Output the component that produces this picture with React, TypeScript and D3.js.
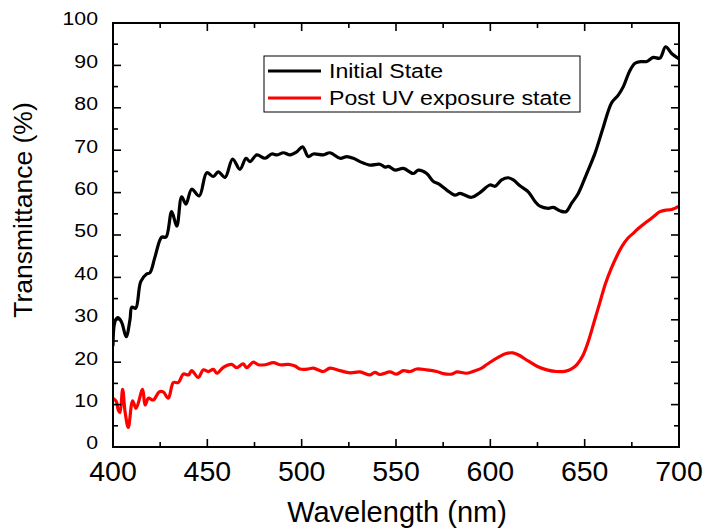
import React from "react";
import * as d3 from "d3";

const initialWl = [400, 401, 402.5, 404.5, 407, 409, 410, 412, 414.7, 417.8, 419.6, 422.3, 425.8, 428.1, 431.1, 433.8, 436.4, 438.7, 441.7, 445.7, 449.7, 453.2, 455.8, 459.4, 463.4, 467.3, 470.5, 472.6, 476.2, 480.6, 484.1, 487, 490.3, 493.8, 497.4, 500.5, 503.5, 506.2, 511.5, 515, 520.3, 523.9, 527.4, 530.9, 536.2, 541.5, 544.2, 546, 549.5, 553.9, 559.2, 561.8, 566.3, 569.8, 572.4, 576.9, 581.3, 583.9, 590.1, 594.5, 599.8, 602.5, 606, 609.5, 612.2, 615.7, 620.1, 623.7, 626.3, 630.7, 633.4, 636.9, 640.1, 643.1, 646.6, 651.1, 655.5, 659.9, 664.3, 667.8, 670.5, 673.7, 676.7, 680.2, 682.9, 686.4, 689.9, 692.9, 696.1, 700];
const initialT = [24, 29.5, 30.5, 29.5, 26, 30, 33, 32.7, 39, 40.8, 41.1, 44.9, 49.5, 49.5, 55.5, 52.1, 59, 57.3, 60.8, 59.2, 64.7, 63.8, 64.9, 63.6, 67.9, 65.5, 68.1, 67.3, 68.9, 68.1, 69.1, 68.9, 69.4, 68.9, 69.6, 70.8, 68.5, 69.1, 68.9, 69.4, 68.1, 68.5, 68.1, 67.3, 66.5, 66.7, 66, 66.2, 65.3, 65.7, 64.5, 65.3, 64.5, 62.6, 62.1, 60.6, 59.4, 59.8, 58.9, 60, 61.8, 61.5, 63, 63.5, 63, 61.6, 60.2, 57.9, 56.8, 56.3, 56.5, 55.7, 55.5, 57.5, 59.8, 64.5, 69.3, 75.5, 81.2, 83, 85, 88.5, 90.5, 90.9, 90.9, 91.9, 91.7, 94.4, 92.8, 91.5];

const postWl = [400, 401.7, 402.8, 403.7, 405.1, 406.4, 408.1, 410.4, 412.2, 415.7, 417, 418.8, 421.4, 424.5, 426.6, 429.3, 432, 434.6, 437.3, 440, 441.7, 445.2, 447.9, 450.5, 453.2, 455, 458.5, 462.9, 465.5, 469, 470.8, 474.4, 477.1, 480.6, 485, 488.6, 493, 496.5, 499.1, 503.5, 506.2, 511.5, 515, 520.3, 525.6, 530.9, 536.2, 538.8, 541.5, 546.8, 550.3, 553.9, 557.4, 561, 566.3, 571.6, 575.1, 579.5, 582.2, 587.5, 591.9, 595.4, 598.9, 604.8, 608, 612, 615, 620, 625, 630, 635, 640, 643, 646, 649, 652, 655, 658, 661, 664, 667, 670, 673, 676, 677.6, 682.9, 686.4, 689.9, 693.5, 696.1, 700];
const postT = [11.5, 10.8, 8.7, 8.1, 13.6, 8.3, 4.6, 10.9, 9.1, 13.6, 9.9, 11.5, 11.1, 13, 13, 11.5, 15.2, 15.2, 17.2, 17, 18, 16.4, 18.2, 17.8, 18.3, 17.4, 18.8, 19.5, 18.7, 19.6, 18.7, 20, 19.4, 19.4, 19.9, 19.4, 19.5, 19.1, 18.4, 18.4, 18.6, 17.8, 18.6, 18, 17.5, 17.7, 17, 17.6, 17.1, 17.7, 17.2, 18, 17.8, 18.4, 18.2, 17.8, 17.3, 17.2, 17.7, 17.4, 18, 18.6, 19.7, 21.3, 22, 22.2, 21.7, 20.3, 19, 18.2, 17.8, 17.9, 18.4, 19.5, 21.5, 25, 29.5, 34, 38.5, 42, 45, 47.5, 49.3, 50.5, 51.2, 53.1, 54.3, 55.5, 55.9, 56, 56.8];

const xTicks = [400, 450, 500, 550, 600, 650, 700];
const xMinor = [425, 475, 525, 575, 625, 675];
const yTicks = [0, 10, 20, 30, 40, 50, 60, 70, 80, 90, 100];
const yMinor = [5, 15, 25, 35, 45, 55, 65, 75, 85, 95];
const seriesNames = ["Initial State", "Post UV exposure state"];
const seriesColors = ["#000000", "#ff0000"];

const L = 113, R = 679, T = 23, B = 447;
const FONT = "Arial, 'Liberation Sans', sans-serif";

export default function App() {
  const x = d3.scaleLinear().domain([400, 700]).range([L, R]);
  const y = d3.scaleLinear().domain([0, 100]).range([B, T]);
  const line = d3.line<[number, number]>().x(d => x(d[0])).y(d => y(d[1])).curve(d3.curveCatmullRom.alpha(0.5));
  const initial = initialWl.map((w, i) => [w, initialT[i]] as [number, number]);
  const post = postWl.map((w, i) => [w, postT[i]] as [number, number]);
  const series = [initial, post];

  return (
    <svg width={706} height={531} style={{ position: "absolute", left: 0, top: 0, background: "#fff" }} fontFamily={FONT}>
      <rect x={0} y={0} width={706} height={531} fill="#fff" />
      <defs>
        <clipPath id="plotclip">
          <rect x={L} y={T} width={R - L} height={B - T} />
        </clipPath>
      </defs>
      <g clipPath="url(#plotclip)">
        {series.map((s, i) => (
          <path key={i} d={line(s) || ""} fill="none" stroke={seriesColors[i]} strokeWidth={3.2} strokeLinejoin="round" strokeLinecap="round" />
        ))}
      </g>
      <rect x={L} y={T} width={R - L} height={B - T} fill="none" stroke="#000" strokeWidth={2} />
      {xTicks.map(t => (
        <g key={"xt" + t}>
          <line x1={x(t)} x2={x(t)} y1={B} y2={B - 8} stroke="#000" strokeWidth={1.6} />
          <line x1={x(t)} x2={x(t)} y1={T} y2={T + 8} stroke="#000" strokeWidth={1.6} />
          <text x={x(t)} y={481} fontSize={28.5} textAnchor="middle" fill="#000">{t}</text>
        </g>
      ))}
      {xMinor.map(t => (
        <g key={"xm" + t}>
          <line x1={x(t)} x2={x(t)} y1={B} y2={B - 5} stroke="#000" strokeWidth={1.6} />
          <line x1={x(t)} x2={x(t)} y1={T} y2={T + 5} stroke="#000" strokeWidth={1.6} />
        </g>
      ))}
      {yTicks.map(t => (
        <g key={"yt" + t}>
          <line x1={L} x2={L + 8} y1={y(t)} y2={y(t)} stroke="#000" strokeWidth={1.6} />
          <line x1={R} x2={R - 8} y1={y(t)} y2={y(t)} stroke="#000" strokeWidth={1.6} />
          <text x={98} y={y(t) + 2.5} fontSize={19} textAnchor="end" fill="#000" transform={`translate(98,0) scale(1.12,1) translate(-98,0)`}>{t}</text>
        </g>
      ))}
      {yMinor.map(t => (
        <g key={"ym" + t}>
          <line x1={L} x2={L + 5} y1={y(t)} y2={y(t)} stroke="#000" strokeWidth={1.6} />
          <line x1={R} x2={R - 5} y1={y(t)} y2={y(t)} stroke="#000" strokeWidth={1.6} />
        </g>
      ))}
      <text x={397} y={522} fontSize={29} textAnchor="middle" fill="#000">Wavelength (nm)</text>
      <text transform="translate(32,210) rotate(-90)" fontSize={26.5} textAnchor="middle" fill="#000">Transmittance (%)</text>
      <rect x={264} y={56} width={316} height={56} fill="#fff" stroke="#000" strokeWidth={1} />
      {seriesNames.map((n, i) => (
        <g key={n}>
          <line x1={268} x2={321} y1={71 + i * 27} y2={71 + i * 27} stroke={seriesColors[i]} strokeWidth={3.2} />
          <text x={329} y={78 + i * 27} fontSize={21} fill="#000" transform={`translate(329,0) scale(1.1,1) translate(-329,0)`}>{n}</text>
        </g>
      ))}
    </svg>
  );
}
